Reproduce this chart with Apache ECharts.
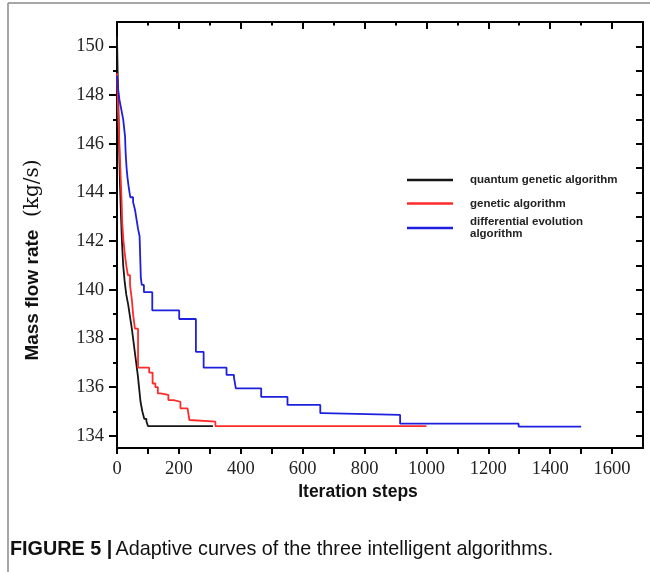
<!DOCTYPE html>
<html>
<head>
<meta charset="utf-8">
<script src="https://cdn.jsdelivr.net/npm/echarts/dist/echarts.min.js"></script>
<style>
html,body{margin:0;padding:0;background:#fff;}
#chart{width:650px;height:572px;}
</style>
</head>
<body>
<div id="chart"></div>
<script>
// ---- data ----
const seriesNames = ['quantum genetic algorithm', 'genetic algorithm', 'differential evolution algorithm'];

const xMajorTicks = [0, 200, 400, 600, 800, 1000, 1200, 1400, 1600];
const xMinorTicks = [100, 300, 500, 700, 900, 1100, 1300, 1500];
const yMajorTicks = [134, 136, 138, 140, 142, 144, 146, 148, 150];
const yMinorTicks = [135, 137, 139, 141, 143, 145, 147, 149];

// quantum genetic algorithm: iteration step at which best value changes, and value
const qgaSteps  = [0, 2, 4, 6, 8, 10, 13, 16, 20, 25, 30, 36, 42, 48, 53, 58, 63, 68, 72, 76, 82, 88, 95, 100, 310];
const qgaValues = [150.4, 149.0, 147.8, 146.5, 145.2, 144.2, 143.0, 142.0, 141.0, 140.3, 139.8, 139.4, 138.9, 138.4, 137.9, 137.4, 136.9, 136.4, 135.9, 135.4, 135.0, 134.7, 134.6, 134.4, 134.4];

// genetic algorithm
const gaSteps  = [0, 3, 6, 9, 12, 15, 17, 21, 25, 30, 35, 42, 48, 52, 58, 68, 104, 115, 124, 132, 140, 166, 183, 205, 228, 234, 239, 318, 1000];
const gaValues = [148.9, 147.5, 146.5, 145.6, 144.6, 143.6, 142.7, 142.0, 141.5, 141.0, 140.6, 140.2, 139.6, 139.0, 138.4, 136.8, 136.6, 136.15, 136.0, 135.74, 135.68, 135.47, 135.4, 135.13, 135.06, 134.65, 134.58, 134.4, 134.4];

// differential evolution algorithm
const deSteps  = [0, 4, 8, 14, 20, 26, 28, 31, 34, 38, 43, 52, 58, 63, 68, 73, 77, 80, 87, 114, 201, 255, 280, 354, 378, 384, 466, 551, 657, 666, 915, 1298, 1500];
const deValues = [148.8, 148.2, 147.8, 147.4, 147.0, 146.3, 145.6, 145.0, 144.6, 144.2, 143.8, 143.6, 143.3, 142.9, 142.5, 142.2, 140.5, 140.2, 139.9, 139.15, 138.8, 137.45, 136.8, 136.5, 136.4, 135.95, 135.6, 135.27, 134.93, 134.86, 134.5, 134.38, 134.38];

const seriesColors = ['#151515', '#ff2b2b', '#1f1fe0'];

// ---- chart ----
const zip = (xs, ys) => xs.map((x, i) => [x, ys[i]]);
const chart = echarts.init(document.getElementById('chart'), null, {renderer: 'canvas'});

const serif = "'Liberation Serif','Times New Roman',serif";
const sans = "'Liberation Sans',Arial,sans-serif";
const axisLineStyle = {color: '#000', width: 2};
const X_MIN = 0, X_MAX = 1700, Y_MIN = 133.5, Y_MAX = 151;

function legendBox(name, top, extra) {
  return Object.assign({
    data: [name],
    left: 407,
    top: top,
    padding: 0,
    icon: 'rect',
    itemWidth: 46,
    itemHeight: 2.5,
    selectedMode: false,
    textStyle: {
      fontFamily: sans, fontSize: 11.5, fontWeight: 'bold', color: '#222',
      lineHeight: 12.6, padding: [0, 0, 0, 12]
    }
  }, extra || {});
}

const option = {
  animation: false,
  backgroundColor: '#fff',
  grid: {left: 117, right: 7, top: 22, bottom: 124, containLabel: false},
  xAxis: [
    { // bottom axis with labels
      type: 'value', position: 'bottom', min: X_MIN, max: X_MAX, interval: 100,
      axisLine: {show: true, onZero: false, lineStyle: axisLineStyle},
      axisTick: {show: true, inside: false, length: 6, lineStyle: {color: '#000', width: 2}},
      axisLabel: {
        show: true, margin: 12, color: '#222', fontFamily: serif, fontSize: 18.5,
        formatter: v => (xMajorTicks.indexOf(v) >= 0 ? String(v) : ''),
        showMaxLabel: false
      },
      splitLine: {show: false}
    },
    { // top frame, major ticks
      type: 'value', position: 'top', min: X_MIN, max: X_MAX,
      axisLine: {show: true, onZero: false, lineStyle: axisLineStyle},
      axisTick: {show: true, inside: true, length: 7, customValues: xMajorTicks, lineStyle: {color: '#000', width: 2}},
      axisLabel: {show: false},
      splitLine: {show: false}
    },
    { // top frame, minor ticks
      type: 'value', position: 'top', min: X_MIN, max: X_MAX,
      axisLine: {show: false},
      axisTick: {show: true, inside: true, length: 3.5, customValues: xMinorTicks, lineStyle: {color: '#000', width: 2}},
      axisLabel: {show: false},
      splitLine: {show: false}
    }
  ],
  yAxis: [
    { // left axis with labels
      type: 'value', position: 'left', min: Y_MIN, max: Y_MAX,
      axisLine: {show: true, onZero: false, lineStyle: axisLineStyle},
      axisTick: {show: true, inside: false, length: 8, customValues: yMajorTicks, lineStyle: {color: '#000', width: 2}},
      axisLabel: {show: true, customValues: yMajorTicks, margin: 13, color: '#222', fontFamily: serif, fontSize: 18.5},
      splitLine: {show: false}
    },
    { // left minor ticks
      type: 'value', position: 'left', min: Y_MIN, max: Y_MAX,
      axisLine: {show: false},
      axisTick: {show: true, inside: false, length: 4, customValues: yMinorTicks, lineStyle: {color: '#000', width: 2}},
      axisLabel: {show: false},
      splitLine: {show: false}
    },
    { // right frame
      type: 'value', position: 'right', min: Y_MIN, max: Y_MAX,
      axisLine: {show: true, onZero: false, lineStyle: axisLineStyle},
      axisTick: {show: true, inside: true, length: 7, customValues: yMajorTicks.concat(yMinorTicks), lineStyle: {color: '#000', width: 2}},
      axisLabel: {show: false},
      splitLine: {show: false}
    }
  ],
  legend: [
    legendBox(seriesNames[0], 173.7),
    legendBox(seriesNames[1], 197.2),
    legendBox(seriesNames[2], 210.4, {
      formatter: () => 'differential evolution\nalgorithm',
      textStyle: {
        fontFamily: sans, fontSize: 11.5, fontWeight: 'bold', color: '#222',
        lineHeight: 12.6, padding: [10, 0, 0, 12]
      }
    })
  ],
  series: [
    {name: seriesNames[0], type: 'line', step: 'end', data: zip(qgaSteps, qgaValues), xAxisIndex: 0, yAxisIndex: 0,
     showSymbol: false, symbol: 'none', color: seriesColors[0], lineStyle: {color: seriesColors[0], width: 1.8}, z: 3},
    {name: seriesNames[1], type: 'line', step: 'end', data: zip(gaSteps, gaValues), xAxisIndex: 0, yAxisIndex: 0,
     showSymbol: false, symbol: 'none', color: seriesColors[1], lineStyle: {color: seriesColors[1], width: 1.8}, z: 4},
    {name: seriesNames[2], type: 'line', step: 'end', data: zip(deSteps, deValues), xAxisIndex: 0, yAxisIndex: 0,
     showSymbol: false, symbol: 'none', color: seriesColors[2], lineStyle: {color: seriesColors[2], width: 1.8}, z: 5}
  ],
  graphic: [
    {type: 'line', shape: {x1: 8, y1: 3, x2: 650, y2: 3}, style: {stroke: '#8a8a8a', lineWidth: 1.5}, silent: true},
    {type: 'line', shape: {x1: 8, y1: 3, x2: 8, y2: 572}, style: {stroke: '#8a8a8a', lineWidth: 1.5}, silent: true},
    {type: 'text', x: 358, y: 492, silent: true,
     style: {text: 'Iteration steps', font: "bold 17.5px 'Liberation Sans', Arial, sans-serif", fill: '#111', align: 'center', verticalAlign: 'middle'}},
    {type: 'text', x: 33, y: 260, rotation: Math.PI / 2, silent: true,
     style: {
       text: '{a|Mass flow rate}{b|  (kg/s)}', align: 'center', verticalAlign: 'middle',
       rich: {
         a: {fontFamily: sans, fontWeight: 'bold', fontSize: 19, fill: '#111'},
         b: {fontFamily: "'DejaVu Serif',serif", fontSize: 20, fill: '#111'}
       }
     }},
    {type: 'text', x: 10, y: 550, silent: true,
     style: {
       text: '{b|FIGURE 5 |} {n|Adaptive curves of the three intelligent algorithms.}', align: 'left', verticalAlign: 'middle',
       rich: {
         b: {fontFamily: sans, fontWeight: 'bold', fontSize: 19.8, fill: '#111'},
         n: {fontFamily: sans, fontSize: 19.8, fill: '#111'}
       }
     }}
  ]
};
chart.setOption(option);
</script>
</body>
</html>
